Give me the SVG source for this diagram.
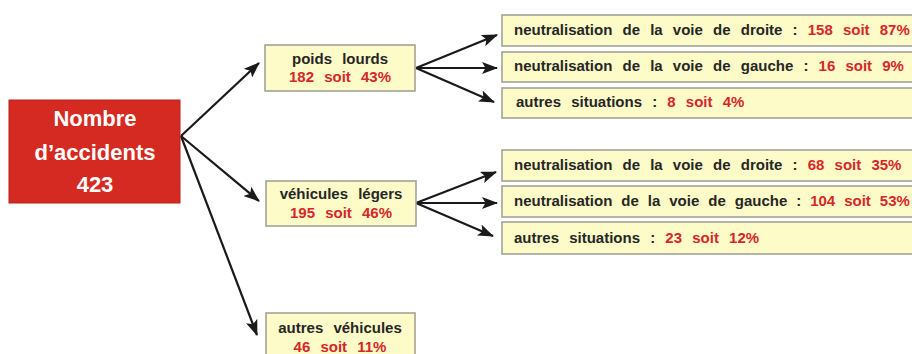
<svg xmlns="http://www.w3.org/2000/svg" width="912" height="354" viewBox="0 0 912 354">
<defs>
<marker id="ah" viewBox="0 0 16 12" refX="15" refY="6" markerWidth="16" markerHeight="12" markerUnits="userSpaceOnUse" orient="auto">
<path d="M0,0 L16,6 L0,12 L3.5,6 Z" fill="#1a1a1a"/>
</marker>
<style>
.box{fill:#fdfbc8;stroke:#a3a39a;stroke-width:1.6}
.t{font-family:"Liberation Sans",Arial,sans-serif;font-weight:bold;font-size:15px;fill:#262626;word-spacing:6px}
.r{fill:#d5272a}
.c{text-anchor:middle}
.big{font-family:"Liberation Sans",Arial,sans-serif;font-weight:bold;font-size:22px;fill:#ffffff;text-anchor:middle}
.ln{stroke:#1a1a1a;stroke-width:2.2;fill:none;marker-end:url(#ah)}
</style>
</defs>
<rect width="912" height="354" fill="#ffffff"/>
<g id="connectors">
<line class="ln" x1="181" y1="136" x2="259" y2="63"/>
<line class="ln" x1="181" y1="136" x2="259" y2="201"/>
<line class="ln" x1="181" y1="136" x2="257" y2="335"/>
<line class="ln" x1="416" y1="68" x2="497" y2="35"/>
<line class="ln" x1="416" y1="68" x2="497" y2="68"/>
<line class="ln" x1="416" y1="68" x2="494" y2="102"/>
<line class="ln" x1="416" y1="203" x2="496" y2="172"/>
<line class="ln" x1="416" y1="203" x2="497" y2="203"/>
<line class="ln" x1="416" y1="203" x2="493" y2="236"/>
</g>
<g id="total">
<rect x="9" y="100" width="171" height="103" fill="#d52a21" stroke="#b8201a" stroke-width="1"/>
<text class="big" x="95" y="126">Nombre</text>
<text class="big" x="95" y="160">d’accidents</text>
<text class="big" x="95" y="192">423</text>
</g>
<g id="poids-lourds">
<rect class="box" x="265" y="45" width="150" height="46"/>
<text class="t c" x="340" y="64">poids lourds</text>
<text class="t c r" x="340" y="82">182 soit 43%</text>
</g>
<g id="vehicules-legers">
<rect class="box" x="266" y="181" width="150" height="45"/>
<text class="t c" x="341" y="199">véhicules légers</text>
<text class="t c r" x="341" y="218">195 soit 46%</text>
</g>
<g id="autres-vehicules">
<rect class="box" x="266" y="313" width="149" height="50"/>
<text class="t c" x="340" y="333">autres véhicules</text>
<text class="t c r" x="340" y="352">46 soit 11%</text>
</g>
<g id="pl-droite">
<rect class="box" x="502" y="15" width="420" height="31"/>
<text class="t" x="514" y="35">neutralisation de la voie de droite : <tspan class="r">158 soit 87%</tspan></text>
</g>
<g id="pl-gauche">
<rect class="box" x="502" y="52" width="420" height="30"/>
<text class="t" x="514" y="71">neutralisation de la voie de gauche : <tspan class="r">16 soit 9%</tspan></text>
</g>
<g id="pl-autres">
<rect class="box" x="502" y="88" width="420" height="30"/>
<text class="t" x="516" y="107">autres situations : <tspan class="r">8 soit 4%</tspan></text>
</g>
<g id="vl-droite">
<rect class="box" x="502" y="150" width="420" height="31"/>
<text class="t" x="514" y="170">neutralisation de la voie de droite : <tspan class="r">68 soit 35%</tspan></text>
</g>
<g id="vl-gauche">
<rect class="box" x="502" y="186" width="420" height="31"/>
<text class="t" x="514" y="206" style="word-spacing:4.8px">neutralisation de la voie de gauche : <tspan class="r">104 soit 53%</tspan></text>
</g>
<g id="vl-autres">
<rect class="box" x="502" y="222" width="420" height="32"/>
<text class="t" x="514" y="243">autres situations : <tspan class="r">23 soit 12%</tspan></text>
</g>
</svg>
